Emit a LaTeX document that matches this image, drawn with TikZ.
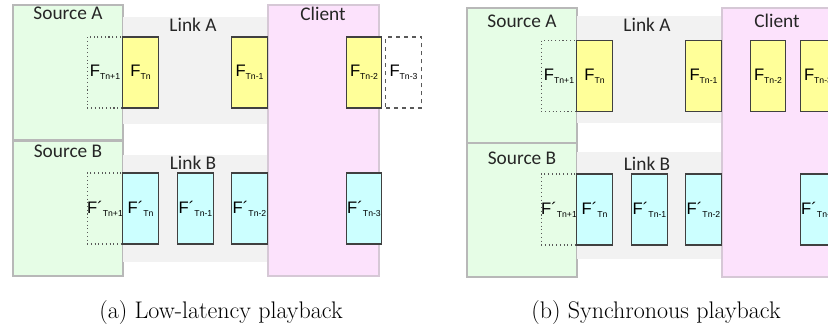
\documentclass[tikz,border=0pt]{standalone}
\usepackage{fontspec}
\newfontfamily\regionfont{Carlito}
\newfontfamily\framefont{Liberation Sans}
\definecolor{srcgreen}{HTML}{E6FDE6}
\definecolor{srcline}{HTML}{B8B8B8}
\definecolor{linkgrey}{HTML}{F2F2F2}
\definecolor{clientpink}{HTML}{FCE2FC}
\definecolor{clientline}{HTML}{D6C8D6}
\definecolor{frameyellow}{HTML}{FFFF99}
\definecolor{framecyan}{HTML}{CCFFFF}
\newcommand{\fa}[1]{F\raisebox{-2.2pt}{\fontsize{6.5}{7}\selectfont #1}}
\newcommand{\fb}[1]{F´\raisebox{-2.2pt}{\fontsize{6.5}{7}\selectfont #1}}
\tikzset{
    source/.style={fill=srcgreen, draw=srcline, line width=1.3pt},
    link/.style={fill=linkgrey},
    client/.style={fill=clientpink, draw=clientline, line width=0.8pt},
    region label/.style={anchor=base, inner sep=0pt, font=\regionfont\fontsize{14.5}{16}\selectfont, text=black!85},
    frame/.style={draw=black!75, line width=0.8pt, minimum width=26.5pt, minimum height=53.25pt, inner sep=0pt, font=\framefont\fontsize{12.5}{14}\selectfont},
    yframe/.style={frame, fill=frameyellow},
    cframe/.style={frame, fill=framecyan},
    dotframe/.style={frame, draw=black!65, dotted},
    dashframe/.style={frame, draw=black!65, dashed, fill=white},
    caption/.style={anchor=base, inner sep=0pt, font=\fontsize{18}{20}\selectfont}
}
\begin{document}
\begin{tikzpicture}[x=0.75pt, y=-0.75pt]
            \useasboundingbox (0, 0) rectangle (828, 331);
            \clip (0, 0) rectangle (828, 331);

            \draw[source] (13, 5) rectangle (123, 140);
            \draw[source] (13, 141) rectangle (123, 276);
            \fill[link] (123, 17) rectangle (268, 124);
            \fill[link] (123, 155) rectangle (268, 262);
            \draw[client] (268, 5) rectangle (379, 276);

            \node[region label] (srcA-a) at (68, 20) {Source A};
            \node[region label] (linkA-a) at (193, 32) {Link A};
            \node[region label] (client-a) at (323, 21) {Client};
            \node[region label] (srcB-a) at (68, 158) {Source B};
            \node[region label] (linkB-a) at (193, 170) {Link B};

            \node[dotframe] (a-next-a) at (105, 72.5) {\fa{Tn+1}};
            \node[yframe] (a-n-a) at (140.5, 72.5) {\fa{Tn}};
            \node[yframe] (a-n1-a) at (249.5, 72.5) {\fa{Tn-1}};
            \node[yframe] (a-n2-a) at (364, 72.5) {\fa{Tn-2}};
            \node[dashframe] (a-n3-a) at (403.5, 72.5) {\fa{Tn-3}};

            \node[dotframe] (b-next-a) at (105, 208.5) {\fb{Tn+1}};
            \node[cframe] (b-n-a) at (140.5, 208.5) {\fb{Tn}};
            \node[cframe] (b-n1-a) at (195.5, 208.5) {\fb{Tn-1}};
            \node[cframe] (b-n2-a) at (249.5, 208.5) {\fb{Tn-2}};
            \node[cframe] (b-n3-a) at (364, 208.5) {\fb{Tn-3}};

            \draw[source] (467, 8) rectangle (577, 143);
            \draw[source] (467, 143) rectangle (577, 277);
            \fill[link] (577, 16) rectangle (722, 123);
            \fill[link] (577, 152) rectangle (722, 259);
            \draw[client] (722, 8) rectangle (833, 277);

            \node[region label] (srcA-b) at (522, 28) {Source A};
            \node[region label] (linkA-b) at (647, 32) {Link A};
            \node[region label] (client-b) at (777, 27.5) {Client};
            \node[region label] (srcB-b) at (522, 165) {Source B};
            \node[region label] (linkB-b) at (647, 171) {Link B};

            \node[dotframe] (a-next-b) at (559, 76) {\fa{Tn+1}};
            \node[yframe] (a-n-b) at (594.5, 76) {\fa{Tn}};
            \node[yframe] (a-n1-b) at (703.5, 76) {\fa{Tn-1}};
            \node[yframe] (a-n2-b) at (768, 76) {\fa{Tn-2}};
            \node[yframe] (a-n3-b) at (818, 76) {\fa{Tn-3}};

            \node[dotframe] (b-next-b) at (559, 209.5) {\fb{Tn+1}};
            \node[cframe] (b-n-b) at (594.5, 209.5) {\fb{Tn}};
            \node[cframe] (b-n1-b) at (649.5, 209.5) {\fb{Tn-1}};
            \node[cframe] (b-n2-b) at (703.5, 209.5) {\fb{Tn-2}};
            \node[cframe] (b-n3-b) at (818, 209.5) {\fb{Tn-3}};

            \node[caption] (cap-a) at (221, 319) {(a) Low-latency playback};
            \node[caption] (cap-b) at (656, 319) {(b) Synchronous playback};
        \end{tikzpicture}
\end{document}
